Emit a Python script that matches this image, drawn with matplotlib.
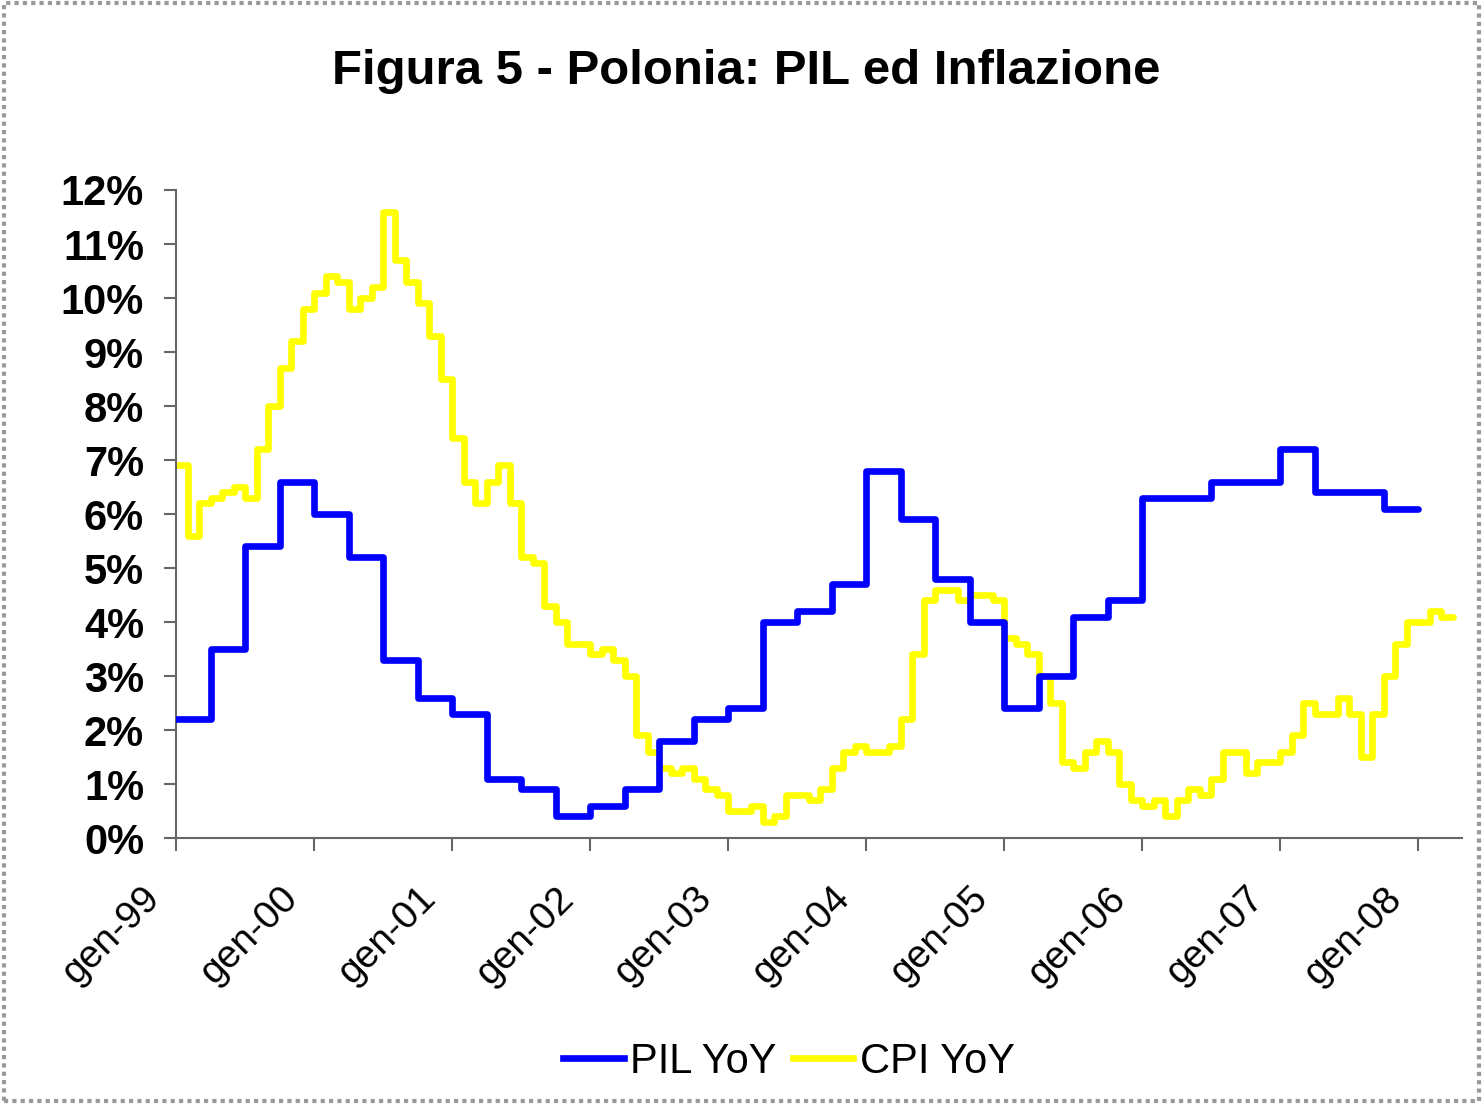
import numpy as np
import matplotlib
matplotlib.use("Agg")
import matplotlib.pyplot as plt
from matplotlib.patches import Rectangle
from matplotlib.transforms import ScaledTranslation

plt.rcParams['font.family'] = ['Liberation Sans', 'DejaVu Sans']

# quarterly GDP yoy (1999Q1 .. 2007Q4)
pil_yoy = [2.2, 3.5, 5.4, 6.6,
           6.0, 5.2, 3.3, 2.6,
           2.3, 1.1, 0.9, 0.4,
           0.6, 0.9, 1.8, 2.2,
           2.4, 4.0, 4.2, 4.7,
           6.8, 5.9, 4.8, 4.0,
           2.4, 3.0, 4.1, 4.4,
           6.3, 6.3, 6.6, 6.6,
           7.2, 6.4, 6.4, 6.1]

# monthly CPI yoy (Jan 1999 .. Mar 2008)
cpi_yoy = [6.9, 5.6, 6.2, 6.3, 6.4, 6.5, 6.3, 7.2, 8.0, 8.7, 9.2, 9.8,
           10.1, 10.4, 10.3, 9.8, 10.0, 10.2, 11.6, 10.7, 10.3, 9.9, 9.3, 8.5,
           7.4, 6.6, 6.2, 6.6, 6.9, 6.2, 5.2, 5.1, 4.3, 4.0, 3.6, 3.6,
           3.4, 3.5, 3.3, 3.0, 1.9, 1.6, 1.3, 1.2, 1.3, 1.1, 0.9, 0.8,
           0.5, 0.5, 0.6, 0.3, 0.4, 0.8, 0.8, 0.7, 0.9, 1.3, 1.6, 1.7,
           1.6, 1.6, 1.7, 2.2, 3.4, 4.4, 4.6, 4.6, 4.4, 4.5, 4.5, 4.4,
           3.7, 3.6, 3.4, 3.0, 2.5, 1.4, 1.3, 1.6, 1.8, 1.6, 1.0, 0.7,
           0.6, 0.7, 0.4, 0.7, 0.9, 0.8, 1.1, 1.6, 1.6, 1.2, 1.4, 1.4,
           1.6, 1.9, 2.5, 2.3, 2.3, 2.6, 2.3, 1.5, 2.3, 3.0, 3.6, 4.0,
           4.0, 4.2, 4.1]

year_labels = ['gen-99', 'gen-00', 'gen-01', 'gen-02', 'gen-03',
               'gen-04', 'gen-05', 'gen-06', 'gen-07', 'gen-08']

fig = plt.figure(figsize=(14.83, 11.04), dpi=100)
ax = fig.add_axes([0.1187, 0.2409, 0.9858 - 0.1187, 0.8279 - 0.2409])

# x in months since Jan 1999
pil_edges = np.arange(len(pil_yoy) + 1) * 3
cpi_edges = np.arange(len(cpi_yoy) + 1)

ax.stairs(pil_yoy, pil_edges, baseline=None, color='#0000FF', linewidth=4.8,
          joinstyle='round', capstyle='round', label='PIL YoY', zorder=3)
ax.stairs(cpi_yoy, cpi_edges, baseline=None, color='#FFFF00', linewidth=4.8,
          joinstyle='round', capstyle='round', label='CPI YoY', zorder=2)

ax.set_xlim(0, 111.8)
ax.set_ylim(0, 12)

ax.set_yticks(np.arange(0, 13))
ax.set_yticklabels([f'{v}%' for v in range(13)], fontsize=30, fontweight='bold')

# year ticks, labels drawn by hand so they can sit lower/left like excel does
xt = np.arange(len(year_labels)) * 12
ax.set_xticks(xt)
ax.set_xticklabels([])
lbl_tr = ax.get_xaxis_transform() + ScaledTranslation(-22 / 100, -55 / 100,
                                                       fig.dpi_scale_trans)
for x, lab in zip(xt, year_labels):
    ax.text(x, 0, lab, transform=lbl_tr, fontsize=28, rotation=45,
            ha='right', va='center', rotation_mode='anchor', clip_on=False)

for s in ['top', 'right']:
    ax.spines[s].set_visible(False)
for s in ['left', 'bottom']:
    ax.spines[s].set_color('#666666')
    ax.spines[s].set_linewidth(1.5)
ax.tick_params(axis='y', length=9, width=1.5, color='#666666', pad=14)
ax.tick_params(axis='x', length=9, width=1.5, color='#666666')

fig.text(0.503, 0.935, 'Figura 5 - Polonia: PIL ed Inflazione', ha='center',
         va='center', fontsize=35.4, fontweight='bold')

fig.legend(loc='center', bbox_to_anchor=(0.532, 0.038), ncol=2, frameon=False,
           fontsize=30, handlelength=1.45, columnspacing=0.4, handletextpad=0.15)

# chart area border
fig.patches.append(Rectangle((0.003, 0.003), 0.994, 0.994, transform=fig.transFigure,
                             fill=False, edgecolor='#999999', linewidth=3,
                             linestyle=(0, (1, 1))))

fig.savefig('out.png', dpi=100, facecolor='white')
